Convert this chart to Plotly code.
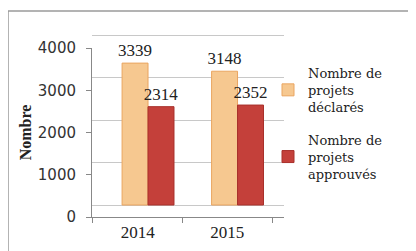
import plotly.graph_objects as go

years = ["2014", "2015"]
declares = [3339, 3148]
approuves = [2314, 2352]
series_names = ["Nombre de<br>projets<br>déclarés", "Nombre de<br>projets<br>approuvés"]
y_ticks = [0, 1000, 2000, 3000, 4000]

# page body has an 8px margin; positions below are screen pixels
OFF = 8
W, H = 416, 251
L, R, T, B = 84, 140, 16, 42
pw, ph = W - L - R, H - T - B

def px_x(p):
    return (p - OFF - L) / pw

def px_y(p):
    return (H - B - (p - OFF)) / ph

fig = go.Figure()
# invisible trace so the labelled front axes are drawn
fig.add_trace(go.Scatter(
    x=years, y=declares, xaxis="x", yaxis="y", mode="markers",
    marker=dict(opacity=0), showlegend=False, hoverinfo="skip",
))
for i, (vals, name, col, edge) in enumerate([
    (declares, series_names[0], "#f6c890", "#eaa560"),
    (approuves, series_names[1], "#c4403a", "#a8302b"),
]):
    fig.add_trace(go.Bar(
        x=years, y=vals, name=name, xaxis="x2", yaxis="y2", legendgroup=f"g{i}",
        marker=dict(color=col, line=dict(color=edge, width=1)),
        text=[str(v) for v in vals], textposition="outside", constraintext="none",
        textfont=dict(family="Liberation Serif", size=17, color="#222"),
        cliponaxis=False,
    ))

fig.add_shape(type="rect", xref="paper", yref="paper",
              x0=px_x(8), x1=px_x(440), y0=px_y(270), y1=px_y(11),
              line=dict(color="#9a9a9a", width=1.5), layer="below")

fig.update_layout(
    width=W, height=H,
    margin=dict(l=L, r=R, t=T, b=B, autoexpand=False),
    paper_bgcolor="white", plot_bgcolor="white",
    barmode="group", bargap=0.42, bargroupgap=0.0,
    showlegend=True,
    legend=dict(x=px_x(268), y=px_y(58), xanchor="left", yanchor="top",
                font=dict(family="DejaVu Serif", size=13, color="#222"),
                tracegroupgap=13, bgcolor="rgba(0,0,0,0)"),
    # front (labelled) axes
    xaxis=dict(type="category", range=[-0.511, 1.634], anchor="y",
               tickfont=dict(family="Liberation Serif", size=17, color="#222"),
               showline=True, linecolor="#888", linewidth=1,
               ticks="outside", tickson="boundaries", ticklen=5, tickcolor="#888",
               showgrid=False),
    yaxis=dict(range=[0, 4000], domain=[0, px_y(48)], anchor="x", tickvals=y_ticks,
               tickfont=dict(family="DejaVu Sans", size=15, color="#333"),
               showline=True, linecolor="#888", linewidth=1,
               ticks="outside", ticklen=5, tickcolor="#888", ticklabelstandoff=7,
               showgrid=False, zeroline=False,
               title=dict(text="<b>Nombre</b>", standoff=2,
                          font=dict(family="Liberation Serif", size=16, color="#222"))),
    # back (bars and walls) axes
    xaxis2=dict(type="category", range=[-0.626, 1.519], anchor="y2",
                visible=False),
    yaxis2=dict(range=[-282, 4259], domain=[0, 1], anchor="x2", tickvals=y_ticks,
                showticklabels=False, showline=False, ticks="",
                showgrid=True, gridcolor="#c8c8c8", gridwidth=1, zeroline=False),
)

fig.write_html("out.html")
